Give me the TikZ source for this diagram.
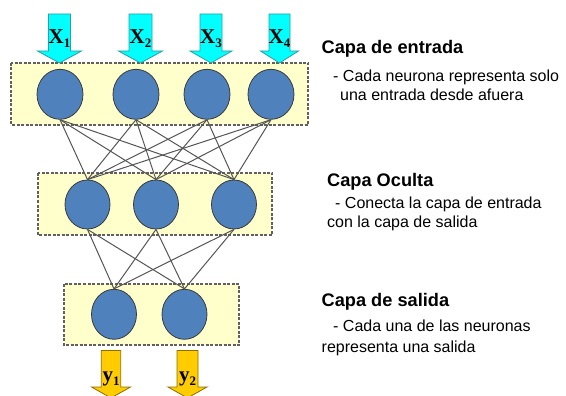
\documentclass[tikz,border=0pt]{standalone}
\usepackage{fontspec}
\setmainfont{Liberation Serif}
\newfontfamily\arialf{Liberation Sans}
\usetikzlibrary{shapes.geometric}
\definecolor{boxfill}{HTML}{FFFFCC}
\definecolor{boxline}{HTML}{606060}
\definecolor{neuron}{HTML}{4F81BD}
\definecolor{neuronline}{HTML}{3A3A3A}
\definecolor{inarr}{HTML}{00FFFF}
\definecolor{inarrline}{HTML}{2E9E9E}
\definecolor{outarr}{HTML}{FFCC00}
\definecolor{outarrline}{HTML}{8C7000}
\definecolor{wire}{HTML}{555555}
\newcommand\subidx[1]{\raisebox{-4pt}{\fontsize{13}{13}\selectfont #1}}
\begin{document}
\begin{tikzpicture}[x=1pt,y=-1pt,
 layerbox/.style={draw=boxline, fill=boxfill, dash pattern=on 3pt off 1.5pt, line width=1.1pt},
 neuronnode/.style={ellipse, draw=neuronline, fill=neuron, line width=0.8pt, minimum width=45pt, minimum height=49pt, inner sep=0pt},
 wirestyle/.style={draw=wire, line width=1pt},
 inarrow/.style={fill=inarr, draw=inarrline, line width=0.8pt},
 outarrow/.style={fill=outarr, draw=outarrline, line width=0.8pt},
 titletext/.style={font=\arialf\bfseries\fontsize{18.2}{21}\selectfont, anchor=base west, inner sep=0pt},
 desctext/.style={font=\arialf\fontsize{16}{19}\selectfont, anchor=base west, inner sep=0pt},
 varlabel/.style={font=\bfseries\fontsize{21}{21}\selectfont, anchor=base, inner sep=0pt}
]
\useasboundingbox (0,0) rectangle (566,396);
\fill[white] (0,0) rectangle (566,396);

% layer boxes
\draw[layerbox] (11,63) rectangle (308,125);
\draw[layerbox] (38,173) rectangle (272,235);
\draw[layerbox] (64,284) rectangle (239,345);

% input arrows: center, shaft half width, head half width
\foreach \cx/\sw/\hw/\nm in {59.5/11/22/1, 140.5/11.5/22/2, 211/11/21/3, 279.5/10.5/19/4}{
  \draw[inarrow] (\cx-\sw,14) -- (\cx+\sw,14) -- (\cx+\sw,51) -- (\cx+\hw,51) -- (\cx,63) -- (\cx-\hw,51) -- (\cx-\sw,51) -- cycle;
  \node[varlabel] (x\nm) at (\cx,43.3) {X\subidx{\nm}};
}

% output arrows
\foreach \cx/\sw/\hw/\nm in {111/9.7/19.5/1, 187.5/10.5/19.5/2}{
  \draw[outarrow] (\cx-\sw,350.5) -- (\cx+\sw,350.5) -- (\cx+\sw,387) -- (\cx+\hw,387) -- (\cx,398) -- (\cx-\hw,387) -- (\cx-\sw,387) -- cycle;
  \node[varlabel] (y\nm) at (\cx,381.7) {y\subidx{\nm}};
}

% neurons
\node[neuronnode, minimum width=46pt, minimum height=50pt] (i1) at (60,94.3) {};
\node[neuronnode, minimum width=46pt, minimum height=50pt] (i2) at (136,94.3) {};
\node[neuronnode, minimum width=46pt, minimum height=50pt] (i3) at (207,94.3) {};
\node[neuronnode, minimum width=46pt, minimum height=50pt] (i4) at (271,94.3) {};
\node[neuronnode] (h1) at (87.5,204.5) {};
\node[neuronnode] (h2) at (156,204.5) {};
\node[neuronnode] (h3) at (234,204.5) {};
\node[neuronnode, minimum height=50pt] (o1) at (114,314.3) {};
\node[neuronnode, minimum height=50pt] (o2) at (184.5,314.3) {};

% connections
\foreach \a in {1,2,3,4}{
  \foreach \b in {1,2,3}{
    \draw[wirestyle] (i\a.south) -- (h\b.north);
  }
}
\foreach \a in {1,2,3}{
  \foreach \b in {1,2}{
    \draw[wirestyle] (h\a.south) -- (o\b.north);
  }
}

% texts
\node[titletext] (t1) at (321.5,54) {Capa de entrada};
\node[desctext] (d1a) at (333,81.5) {- Cada neurona representa solo};
\node[desctext] (d1b) at (340,101) {una entrada desde afuera};

\node[titletext] (t2) at (327,186) {Capa Oculta};
\node[desctext] (d2a) at (335,208) {- Conecta la capa de entrada};
\node[desctext] (d2b) at (327,228) {con la capa de salida};

\node[titletext] (t3) at (321.5,306.5) {Capa de salida};
\node[desctext] (d3a) at (333,331) {- Cada una de las neuronas};
\node[desctext] (d3b) at (321.5,352) {representa una salida};
\end{tikzpicture}
\end{document}
